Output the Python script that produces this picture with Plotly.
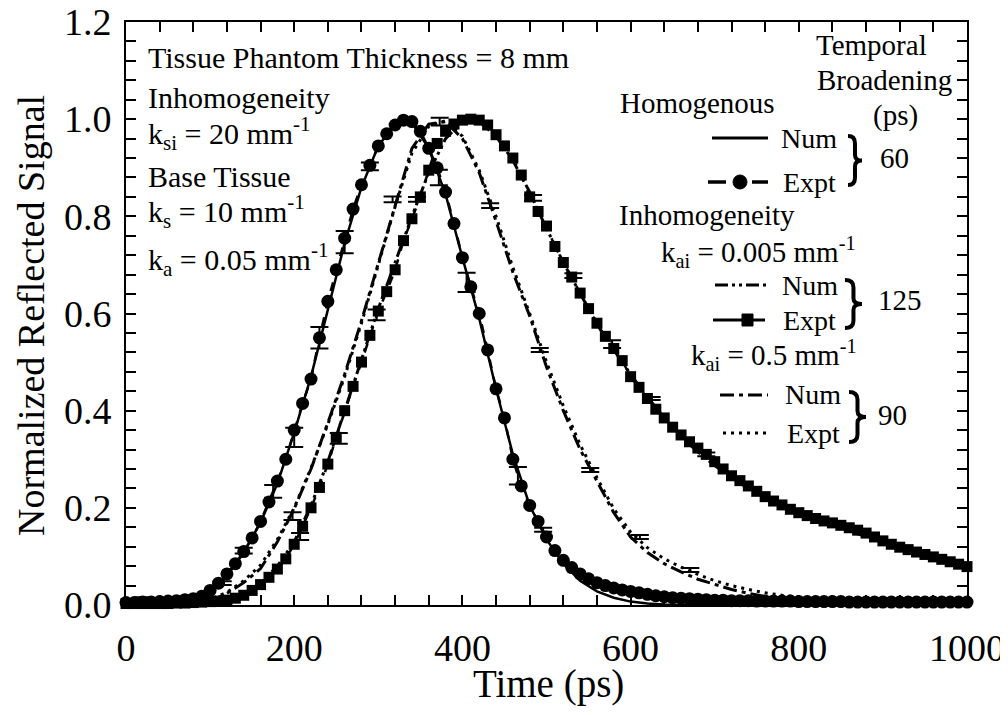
import plotly.graph_objects as go

# ---- data ----
t10 = list(range(0, 1001, 10))
t20 = list(range(0, 1001, 20))

# homogeneous, experiment (circles), every 10 ps
homo_expt = [0.005, 0.005, 0.006, 0.006, 0.007, 0.008, 0.009, 0.011, 0.013, 0.018,
             0.030, 0.045, 0.064, 0.085, 0.110, 0.138, 0.172, 0.212, 0.255, 0.300,
             0.360, 0.415, 0.465, 0.550, 0.625, 0.690, 0.755, 0.815, 0.865, 0.905,
             0.945, 0.970, 0.988, 0.998, 0.995, 0.975, 0.940, 0.900, 0.850, 0.785,
             0.715, 0.655, 0.600, 0.525, 0.445, 0.385, 0.300, 0.245, 0.205, 0.172,
             0.140, 0.112, 0.092, 0.077, 0.064, 0.054, 0.046, 0.040, 0.035, 0.031,
             0.028, 0.025, 0.022, 0.019, 0.017, 0.015, 0.014, 0.013, 0.012, 0.011,
             0.010, 0.010, 0.009, 0.009, 0.009, 0.008, 0.008, 0.008, 0.008, 0.008,
             0.007, 0.007, 0.007, 0.007, 0.007, 0.007, 0.006, 0.006, 0.006, 0.006,
             0.006, 0.006, 0.006, 0.006, 0.006, 0.006, 0.006, 0.006, 0.006, 0.006,
             0.006]

# homogeneous, numerical, every 20 ps
homo_num = [0.0, 0.0, 0.001, 0.003, 0.010, 0.025, 0.060, 0.108, 0.170, 0.250,
            0.355, 0.470, 0.610, 0.745, 0.860, 0.945, 0.990, 0.993, 0.940, 0.845,
            0.715, 0.590, 0.445, 0.310, 0.205, 0.135, 0.085, 0.050, 0.028, 0.015,
            0.007, 0.003, 0.001, 0.0, 0.0, 0.0, 0.0, 0.0, 0.0, 0.0,
            0.0, 0.0, 0.0, 0.0, 0.0, 0.0, 0.0, 0.0, 0.0, 0.0, 0.0]

# inhomogeneity k_ai = 0.005, experiment (squares), every 10 ps
low_expt = [0.003, 0.003, 0.003, 0.003, 0.003, 0.003, 0.004, 0.004, 0.005, 0.006,
            0.007, 0.008, 0.010, 0.014, 0.020, 0.030, 0.042, 0.057, 0.074, 0.095,
            0.125, 0.162, 0.200, 0.242, 0.290, 0.345, 0.400, 0.450, 0.500, 0.555,
            0.605, 0.645, 0.690, 0.750, 0.795, 0.840, 0.895, 0.950, 0.975, 0.990,
            0.998, 1.000, 0.998, 0.988, 0.968, 0.945, 0.920, 0.885, 0.840, 0.810,
            0.780, 0.738, 0.705, 0.675, 0.642, 0.610, 0.580, 0.553, 0.528, 0.503,
            0.470, 0.448, 0.425, 0.403, 0.385, 0.366, 0.350, 0.336, 0.323, 0.310,
            0.295, 0.280, 0.266, 0.256, 0.245, 0.234, 0.223, 0.214, 0.206, 0.197,
            0.190, 0.184, 0.178, 0.173, 0.169, 0.164, 0.159, 0.154, 0.148, 0.140,
            0.132, 0.125, 0.119, 0.114, 0.109, 0.104, 0.099, 0.094, 0.089, 0.084,
            0.079]

# inhomogeneity k_ai = 0.005, numerical, every 20 ps
low_num = [0.0, 0.0, 0.0, 0.001, 0.002, 0.004, 0.010, 0.022, 0.045, 0.080,
           0.130, 0.205, 0.295, 0.400, 0.505, 0.610, 0.705, 0.800, 0.890, 0.960,
           0.995, 0.995, 0.965, 0.915, 0.850, 0.775, 0.705, 0.640, 0.578, 0.525,
           0.475, 0.428, 0.385, 0.347, 0.315, 0.287, 0.262, 0.240, 0.220, 0.203,
           0.188, 0.175, 0.163, 0.152, 0.141, 0.130, 0.120, 0.110, 0.101, 0.092,
           0.083]

# inhomogeneity k_ai = 0.5, numerical, every 20 ps
high_num = [0.0, 0.0, 0.0, 0.001, 0.003, 0.008, 0.024, 0.046, 0.075, 0.130,
            0.198, 0.280, 0.375, 0.475, 0.585, 0.705, 0.825, 0.940, 0.990, 0.995,
            0.960, 0.890, 0.790, 0.685, 0.595, 0.490, 0.400, 0.320, 0.255, 0.190,
            0.140, 0.108, 0.085, 0.068, 0.053, 0.042, 0.032, 0.024, 0.017, 0.011,
            0.007, 0.004, 0.002, 0.001, 0.0, 0.0, 0.0, 0.0, 0.0, 0.0, 0.0]

# inhomogeneity k_ai = 0.5, experiment, every 20 ps
high_expt = [0.003, 0.003, 0.003, 0.004, 0.006, 0.012, 0.026, 0.050, 0.082, 0.135,
             0.200, 0.282, 0.372, 0.470, 0.580, 0.700, 0.820, 0.930, 0.985, 0.997,
             0.965, 0.895, 0.800, 0.695, 0.600, 0.500, 0.410, 0.330, 0.262, 0.198,
             0.150, 0.118, 0.095, 0.078, 0.063, 0.050, 0.040, 0.032, 0.025, 0.020,
             0.016, 0.013, 0.011, 0.010, 0.009, 0.008, 0.008, 0.008, 0.008, 0.008,
             0.008]

# error bars on the experimental data
homo_err_t = [20, 140, 175, 200, 230, 260, 290, 372, 405, 466, 496]
homo_err_v = [0.012, 0.112, 0.234, 0.345, 0.550, 0.747, 0.903, 0.880, 0.664, 0.266, 0.155]
homo_err_e = [0.004, 0.006, 0.013, 0.020, 0.022, 0.023, 0.008, 0.016, 0.020, 0.018, 0.004]

low_err_t = [207, 253, 298, 346, 484, 532, 578, 625, 690]
low_err_v = [0.141, 0.343, 0.597, 0.835, 0.838, 0.678, 0.537, 0.425, 0.310]
low_err_e = [0.007, 0.011, 0.011, 0.005, 0.006, 0.005, 0.008, 0.003, 0.004]

high_err_t = [115, 198, 317, 373, 433, 492, 552, 611, 671]
high_err_v = [0.045, 0.183, 0.835, 0.995, 0.822, 0.525, 0.278, 0.140, 0.072]
high_err_e = [0.004, 0.008, 0.006, 0.008, 0.005, 0.004, 0.004, 0.004, 0.004]

FONT = "Times New Roman, Liberation Serif, Times, serif"
DASH2DOT = "13px,4px,3px,4px,3px,4px"
DASHDOT = "14px,5px,4px,5px"
DOTS = "3px,5px"

fig = go.Figure()

fig.add_trace(go.Scatter(x=t20, y=homo_num, mode="lines",
                         line=dict(color="black", width=2.5), cliponaxis=False))
fig.add_trace(go.Scatter(x=t20, y=low_num, mode="lines",
                         line=dict(color="black", width=3, dash=DASH2DOT)))
fig.add_trace(go.Scatter(x=t20, y=high_num, mode="lines",
                         line=dict(color="black", width=3, dash=DASHDOT)))
fig.add_trace(go.Scatter(x=t20, y=high_expt, mode="lines",
                         line=dict(color="black", width=3, dash=DOTS)))
fig.add_trace(go.Scatter(x=t10, y=low_expt, mode="lines+markers",
                         line=dict(color="black", width=2.5, dash="dash"),
                         marker=dict(symbol="square", size=11, color="black"),
                         cliponaxis=False))
fig.add_trace(go.Scatter(x=t10, y=homo_expt, mode="lines+markers",
                         line=dict(color="black", width=2.5, dash="dash"),
                         marker=dict(symbol="circle", size=13, color="black"),
                         cliponaxis=False))

for et, ev, ee in [(homo_err_t, homo_err_v, homo_err_e),
                   (low_err_t, low_err_v, low_err_e),
                   (high_err_t, high_err_v, high_err_e)]:
    fig.add_trace(go.Scatter(x=et, y=ev, mode="markers",
                             marker=dict(size=1, color="black"),
                             error_y=dict(type="data", array=ee, visible=True,
                                          color="black", thickness=2, width=9)))

# ---- frame geometry, in page pixels (the page body adds an 8 px margin) ----
OFF = 8
W, H = 1008 - OFF, 715 - OFF
PL, PR, PT, PB = 126, 967, 22, 605


def px(x):
    return (x - PL) / (PR - PL)


def py(y):
    return (PB - y) / (PB - PT)


anns = []


def txt(s, x, y, anchor="left", size=30, angle=0):
    anns.append(dict(text=s, x=px(x), y=py(y), xref="paper", yref="paper",
                     xanchor=anchor, yanchor="middle", showarrow=False,
                     textangle=angle,
                     font=dict(family=FONT, size=size, color="black")))


# axis titles
txt("Time (ps)", 548, 684, "center", 39)
txt("Normalized Reflected Signal", 31, 316, "center", 38, -90)

# top-left notes
txt("Tissue Phantom Thickness = 8 mm", 146, 58)
txt("Inhomogeneity", 146, 97)
txt("k<sub>si</sub> = 20 mm<sup>-1</sup>", 146, 133)
txt("Base Tissue", 146, 177)
txt("k<sub>s</sub> = 10 mm<sup>-1</sup>", 146, 211)
txt("k<sub>a</sub> = 0.05 mm<sup>-1</sup>", 146, 259)

# legend block
txt("Temporal", 871, 45, "center", 29)
txt("Broadening", 884, 80, "center", 29)
txt("(ps)", 895, 115, "center", 29)
txt("Homogenous", 777, 103, "right", 29)
txt("Num", 779, 138, "left", 28)
txt("Expt", 781, 182, "left", 28)
txt("60", 878, 158, "left", 29)
txt("Inhomogeneity", 797, 215, "right", 29)
txt("k<sub>ai</sub> = 0.005 mm<sup>-1</sup>", 858, 252, "right", 29)
txt("Num", 780, 285, "left", 28)
txt("Expt", 781, 320, "left", 28)
txt("125", 876, 300, "left", 29)
txt("k<sub>ai</sub> = 0.5 mm<sup>-1</sup>", 859, 355, "right", 29)
txt("Num", 783, 395, "left", 28)
txt("Expt", 785, 433, "left", 28)
txt("90", 876, 415, "left", 29)

shapes = []


def seg(x0, x1, y, dash="solid", w=3):
    shapes.append(dict(type="line", xref="paper", yref="paper",
                       x0=px(x0), x1=px(x1), y0=py(y), y1=py(y),
                       line=dict(color="black", width=w, dash=dash)))


def brace(x0, y0, x1, y1):
    xm = (x0 + x1) / 2
    ym = (y0 + y1) / 2
    h = y1 - y0
    pts = [("M", x0, y0), ("Q", xm, y0), ("", xm, y0 + h * 0.15),
           ("L", xm, ym - h * 0.12), ("Q", xm, ym), ("", x1, ym),
           ("Q", xm, ym), ("", xm, ym + h * 0.12),
           ("L", xm, y1 - h * 0.15), ("Q", xm, y1), ("", x0, y1)]
    path = " ".join(f"{c}{px(a):.4f},{py(b):.4f}" if c else f"{px(a):.4f},{py(b):.4f}"
                    for c, a, b in pts)
    shapes.append(dict(type="path", xref="paper", yref="paper", path=path,
                       line=dict(color="black", width=4)))


seg(712, 768, 138, "solid", 3)
seg(708, 726, 182, "solid", 3.5)
seg(752, 768, 182, "solid", 3.5)
shapes.append(dict(type="circle", xref="paper", yref="paper",
                   x0=px(733), x1=px(747), y0=py(189), y1=py(175),
                   fillcolor="black", line=dict(color="black", width=1)))
seg(715, 768, 285, DASH2DOT, 3)
seg(713, 765, 320, "solid", 3)
shapes.append(dict(type="rect", xref="paper", yref="paper",
                   x0=px(742), x1=px(753), y0=py(326), y1=py(314),
                   fillcolor="black", line=dict(color="black", width=1)))
seg(720, 768, 395, DASHDOT, 3)
seg(723, 768, 433, DOTS, 3)
brace(848, 136, 862, 185)
brace(845, 280, 862, 328)
brace(849, 392, 866, 442)

axis_common = dict(showline=True, linecolor="black", linewidth=2, mirror="allticks",
                   ticks="inside", ticklen=10, tickwidth=1.5, tickcolor="black",
                   showgrid=False, zeroline=False, automargin=False,
                   ticklabeloverflow="allow",
                   tickfont=dict(family=FONT, size=38, color="black"))

fig.update_layout(
    width=W, height=H,
    margin=dict(l=PL - OFF, r=W - (PR - OFF), t=PT - OFF, b=H - (PB - OFF),
                autoexpand=False),
    paper_bgcolor="white", plot_bgcolor="white",
    showlegend=False,
    font=dict(family=FONT, color="black"),
    xaxis=dict(range=[0, 1000], dtick=200, ticklabelstandoff=8,
               minor=dict(dtick=40, ticks="inside", ticklen=10, tickwidth=1.5,
                          tickcolor="black"),
               **axis_common),
    yaxis=dict(range=[0, 1.2], dtick=0.2, tickformat=".1f", ticklabelstandoff=5,
               minor=dict(dtick=0.04, ticks="inside", ticklen=10, tickwidth=1.5,
                          tickcolor="black"),
               **axis_common),
    annotations=anns,
    shapes=shapes,
)

fig.write_html("out.html")
